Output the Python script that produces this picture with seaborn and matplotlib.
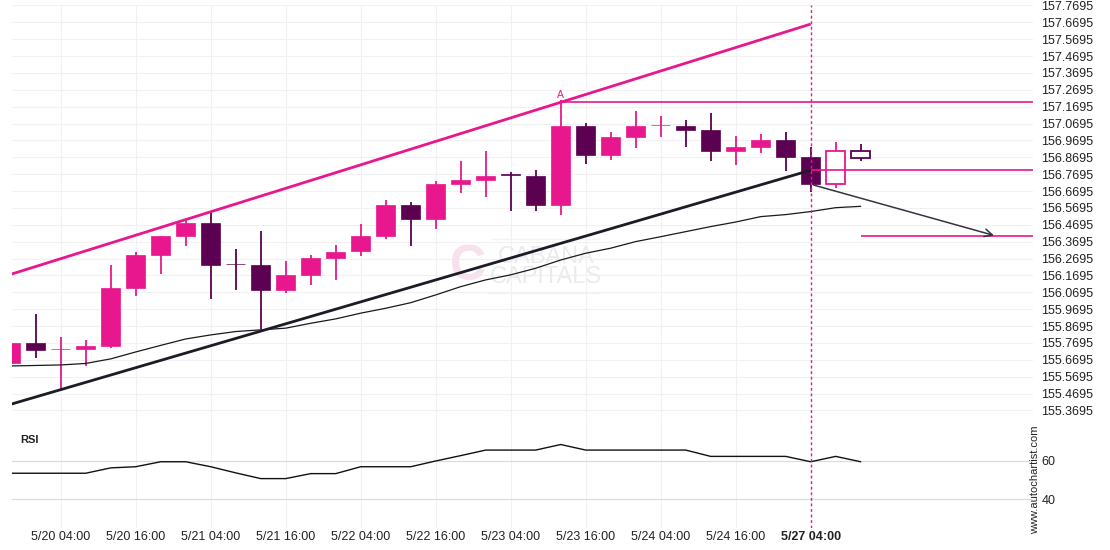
import numpy as np
import pandas as pd
import matplotlib
matplotlib.use("Agg")
import matplotlib.pyplot as plt
import seaborn as sns

# ---------------- data ----------------
opens  = [155.653, 155.771, 155.732, 155.736, 155.754, 156.097, 156.293, 156.405, 156.481, 156.239,
          156.232, 156.085, 156.174, 156.275, 156.316, 156.405, 156.587, 156.506, 156.713, 156.737,
          156.766, 156.759, 156.589, 157.055, 156.885, 156.992, 157.058, 157.055, 157.031, 156.909,
          156.933, 156.972, 156.872, 156.710, 156.905]
highs  = [155.771, 155.941, 155.803, 155.787, 156.232, 156.307, 156.404, 156.498, 156.546, 156.325,
          156.433, 156.254, 156.289, 156.348, 156.473, 156.617, 156.605, 156.728, 156.846, 156.907,
          156.784, 156.793, 157.209, 157.071, 157.021, 157.142, 157.113, 157.089, 157.130, 156.994,
          157.006, 157.018, 156.931, 156.959, 156.947]
lows   = [155.653, 155.679, 155.497, 155.633, 155.738, 156.048, 156.177, 156.344, 156.030, 156.082,
          155.851, 156.068, 156.111, 156.141, 156.283, 156.384, 156.346, 156.443, 156.656, 156.636,
          156.553, 156.553, 156.526, 156.828, 156.856, 156.923, 156.992, 156.933, 156.846, 156.822,
          156.893, 156.787, 156.662, 156.690, 156.846]
closes = [155.771, 155.730, 155.735, 155.752, 156.097, 156.291, 156.404, 156.481, 156.234, 156.236,
          156.085, 156.173, 156.273, 156.309, 156.404, 156.587, 156.506, 156.713, 156.734, 156.759,
          156.764, 156.589, 157.055, 156.885, 156.990, 157.055, 157.061, 157.033, 156.909, 156.933,
          156.972, 156.873, 156.710, 156.905, 156.864]
hollow = [False] * 33 + [True, True]

ma_values = [155.633, 155.636, 155.639, 155.648, 155.675, 155.716, 155.755, 155.793, 155.817, 155.837,
             155.847, 155.857, 155.886, 155.912, 155.946, 155.975, 156.008, 156.054, 156.103, 156.143,
             156.173, 156.212, 156.261, 156.301, 156.331, 156.370, 156.399, 156.429, 156.459, 156.486,
             156.518, 156.530, 156.548, 156.571, 156.579]

rsi_values = [53.6, 53.6, 53.6, 53.6, 56.4, 57.0, 59.6, 59.6, 57.0, 53.8,
              50.8, 50.8, 53.4, 53.4, 57.0, 57.0, 57.0, 60.0, 62.8, 65.7,
              65.7, 65.7, 68.6, 65.7, 65.7, 65.7, 65.7, 65.7, 62.4, 62.4,
              62.4, 62.4, 59.6, 62.4, 59.6]

time_tick_pos = [2, 5, 8, 11, 14, 17, 20, 23, 26, 29, 32]
time_labels = ["5/20 04:00", "5/20 16:00", "5/21 04:00", "5/21 16:00", "5/22 04:00",
               "5/22 16:00", "5/23 04:00", "5/23 16:00", "5/24 04:00", "5/24 16:00", "5/27 04:00"]

price_ticks = [155.3695 + 0.1 * k for k in range(25)]
rsi_ticks = [40, 60]

# pattern lines (x as candle index, y as price)
upper_line_x = [0, 32]
upper_line_y = [156.176, 157.659]
lower_line_x = [0, 32]
lower_line_y = [155.406, 156.793]
level_A = 157.196
level_A_start = 22
level_break = 156.793
level_break_start = 32
level_target = 156.402
level_target_start = 34
arrow_from = (32, 156.710)
arrow_to = (39.44, 156.402)
signal_index = 32

PINK = "#E8178D"
PURPLE = "#5C0052"
GRID = "#f1f1f1"
TXT = "#222222"

# ---------------- figure ----------------
sns.set_theme(style="white")
plt.rcParams["font.family"] = ["Liberation Sans", "DejaVu Sans"]

W, H = 1110, 550
fig = plt.figure(figsize=(W / 100, H / 100), dpi=100)
fig.patch.set_facecolor("white")

left_px, right_px = 12, 1033
main_top, main_bot = 5, 418
rsi_top, rsi_bot = 418, 528
ax = fig.add_axes([left_px / W, 1 - main_bot / H, (right_px - left_px) / W, (main_bot - main_top) / H])
axr = fig.add_axes([left_px / W, 1 - rsi_bot / H, (right_px - left_px) / W, (rsi_bot - rsi_top) / H], sharex=ax)

xlim = ((left_px - 10.7) / 25, (right_px - 10.7) / 25)
ax.set_xlim(*xlim)
ax.set_ylim(155.3247, 157.7720)
axr.set_ylim(25.0, 82.45)

for a in (ax, axr):
    a.set_facecolor("white")
    for s in a.spines.values():
        s.set_visible(False)
    a.tick_params(length=0)
    for xv in time_tick_pos:
        a.axvline(xv, color=GRID, lw=0.8, zorder=0)

for yv in price_ticks:
    ax.axhline(yv, color=GRID, lw=0.8, zorder=0)
for yv in rsi_ticks:
    axr.axhline(yv, color="#dcdcdc", lw=0.9, zorder=0)

# watermark (behind everything)
ax.text(0.523, 0.390, "CABANA", transform=ax.transAxes, fontsize=17, color="#ebebeb",
        ha="center", va="center", zorder=0.5)
ax.text(0.523, 0.341, "CAPITALS", transform=ax.transAxes, fontsize=17, color="#ebebeb",
        ha="center", va="center", zorder=0.5)
ax.text(0.447, 0.366, "C", transform=ax.transAxes, fontsize=36, color="#f7e1ec",
        ha="center", va="center", fontweight="bold", zorder=0.5)
ax.plot([0.47, 0.575], [0.434, 0.434], transform=ax.transAxes, color="#f3f3f3", lw=1, zorder=0.5)
ax.plot([0.465, 0.575], [0.302, 0.302], transform=ax.transAxes, color="#f3f3f3", lw=1, zorder=0.5)

# ---------------- candles ----------------
idx = np.arange(len(opens))
df = pd.DataFrame({"i": idx, "open": opens, "high": highs, "low": lows, "close": closes, "hollow": hollow})
body_w = 0.76
for r in df.itertuples():
    col = PINK if r.close >= r.open else PURPLE
    lo, hi = min(r.open, r.close), max(r.open, r.close)
    ax.vlines(r.i, r.low, r.high, color=col, lw=1.3, zorder=3)
    h = max(hi - lo, 0.004)
    if r.hollow:
        ax.bar(r.i, h, bottom=lo, width=body_w, color="white", edgecolor=col, linewidth=1.3, zorder=4)
    else:
        ax.bar(r.i, h, bottom=lo, width=body_w, color=col, edgecolor=col, linewidth=0.5, zorder=4)

# moving average
sns.lineplot(x=idx, y=ma_values, ax=ax, color="#1a1a1a", lw=0.9, zorder=5, legend=False)

# pattern lines
ax.plot([xlim[0] - 1, upper_line_x[1]],
        np.polyval(np.polyfit(upper_line_x, upper_line_y, 1), [xlim[0] - 1, upper_line_x[1]]),
        color=PINK, lw=2.0, zorder=6, solid_capstyle="butt")
ax.plot([xlim[0] - 1, lower_line_x[1]],
        np.polyval(np.polyfit(lower_line_x, lower_line_y, 1), [xlim[0] - 1, lower_line_x[1]]),
        color="#1c1c28", lw=2.0, zorder=6, solid_capstyle="butt")
ax.hlines(level_A, level_A_start, xlim[1], color=PINK, lw=1.2, zorder=6)
ax.hlines(level_break, level_break_start, xlim[1], color=PINK, lw=1.2, zorder=6)
ax.hlines(level_target, level_target_start, xlim[1], color=PINK, lw=1.2, zorder=6)
ax.text(level_A_start, level_A + 0.015, "A", color=PINK, fontsize=7.5, ha="center", va="bottom", zorder=7)
ax.annotate("", xy=arrow_to, xytext=arrow_from,
            arrowprops=dict(arrowstyle="->", color="#333344", lw=1.1, mutation_scale=14), zorder=7)

# signal vertical dashed line
for a in (ax, axr):
    a.axvline(signal_index, color=PINK, lw=1.0, ls=(0, (2, 2)), zorder=8)

# RSI
sns.lineplot(x=idx, y=rsi_values, ax=axr, color="#111111", lw=1.0, zorder=5, legend=False)
axr.text(0.0078, 0.80, "RSI", transform=axr.transAxes,
         fontsize=8, fontweight="bold", color=TXT, ha="left", va="center")

# ticks
ax.yaxis.tick_right()
ax.set_yticks(price_ticks)
ax.set_yticklabels([f"{v:.4f}" for v in price_ticks], fontsize=9, color=TXT)
ax.tick_params(axis="y", pad=6)
ax.tick_params(axis="x", labelbottom=False)

axr.yaxis.tick_right()
axr.set_yticks(rsi_ticks)
axr.set_yticklabels([str(v) for v in rsi_ticks], fontsize=9, color=TXT)
axr.tick_params(axis="y", pad=6)
axr.set_xticks(time_tick_pos)
axr.set_xticklabels(time_labels, fontsize=9, color=TXT)
axr.tick_params(axis="x", pad=2.5)
axr.get_xticklabels()[-1].set_fontweight("bold")
axr.set_xlabel("")
axr.set_ylabel("")
ax.set_xlabel("")
ax.set_ylabel("")

fig.text(1035 / W, 1 - 480 / H, "www.autochartist.com", rotation=90, fontsize=8,
         color=TXT, ha="center", va="center")

fig.savefig("out.png", dpi=100, facecolor="white")
